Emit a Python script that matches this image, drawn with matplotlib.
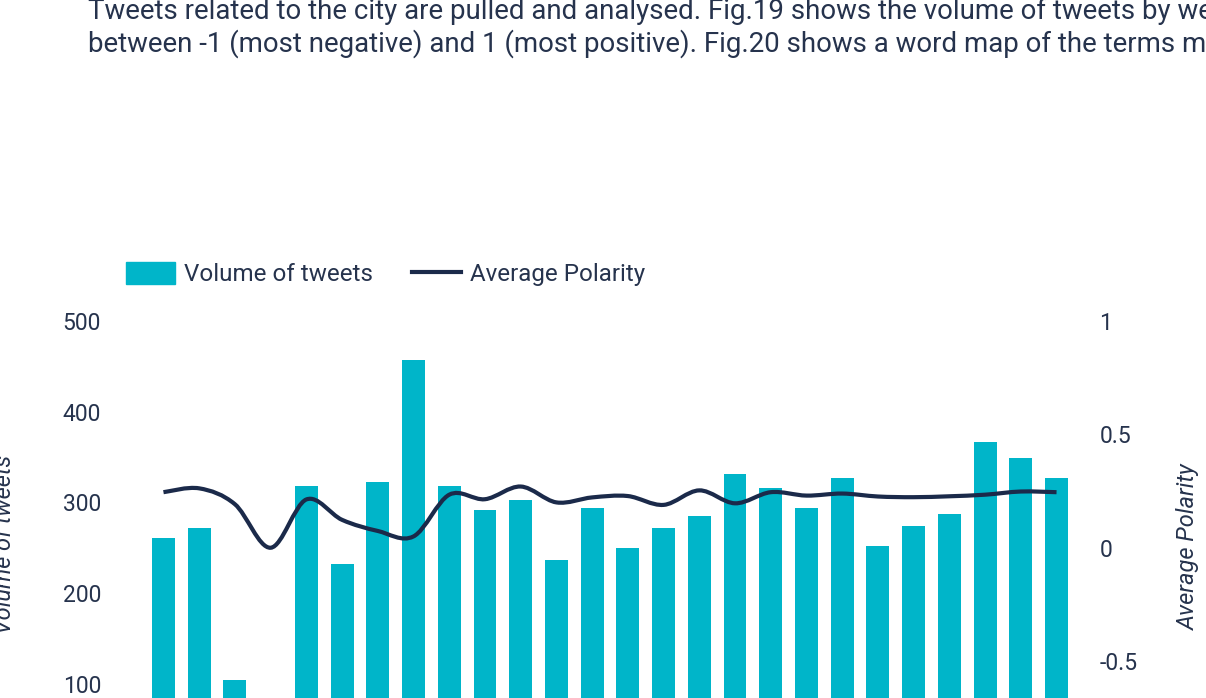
import matplotlib.pyplot as plt
from matplotlib.path import Path
from matplotlib.patches import PathPatch, Patch
from matplotlib.lines import Line2D

plt.rcParams['font.family'] = ['Roboto', 'DejaVu Sans']

# weekly tweet data (x tick labels are cropped out of the reference)
weeks = list(range(1, 27))
volume = [261, 272, 104, 0, 318, 232, 322, 457, 318, 292, 303, 236, 294,
          250, 272, 285, 331, 316, 294, 327, 252, 274, 287, 367, 349, 327]
polarity = [0.245, 0.262, 0.192, 0.0, 0.213, 0.123, 0.074, 0.05, 0.234, 0.214,
            0.27, 0.2, 0.222, 0.228, 0.189, 0.253, 0.196, 0.245, 0.23, 0.239,
            0.226, 0.223, 0.227, 0.234, 0.248, 0.245]
volume_ticks = [100, 200, 300, 400, 500]
polarity_ticks = [-0.5, 0, 0.5, 1]
polarity_ticklabels = ['-0.5', '0', '0.5', '1']

bar_color = '#00B5C9'
line_color = '#1B2A4A'
text_color = '#26334D'

intro = ["Tweets related to the city are pulled and analysed. Fig.19 shows the volume of tweets by week",
         "between -1 (most negative) and 1 (most positive). Fig.20 shows a word map of the terms most"]

W, H = 1206, 698
fig = plt.figure(figsize=(W / 100, H / 100), dpi=100)

# axes run past the bottom edge: the reference is a crop
left, right, top, bottom = 145.6, 1074.4, 321, 774.5
ax = fig.add_axes([left / W, 1 - bottom / H, (right - left) / W, (bottom - top) / H])
ax2 = ax.twinx()

x = list(range(len(weeks)))
ax.bar(x, volume, width=0.64, color=bar_color, zorder=2)
ax.set_xlim(-0.5, len(weeks) - 0.5)
ax.set_ylim(0, 500)
ax.set_yticks(volume_ticks)
ax.set_xticks([])

# smooth line through the weekly points (Bezier, Catmull-Rom style control points)
pts = list(zip(x, polarity))
n = len(pts)
verts = [pts[0]]
codes = [Path.MOVETO]
for i in range(n - 1):
    p0 = pts[i - 1] if i > 0 else pts[i]
    p1 = pts[i]
    p2 = pts[i + 1]
    p3 = pts[i + 2] if i + 2 < n else pts[i + 1]
    c1 = (p1[0] + (p2[0] - p0[0]) / 6, p1[1] + (p2[1] - p0[1]) / 6)
    c2 = (p2[0] - (p3[0] - p1[0]) / 6, p2[1] - (p3[1] - p1[1]) / 6)
    verts += [c1, c2, p2]
    codes += [Path.CURVE4] * 3
ax2.add_patch(PathPatch(Path(verts, codes), fill=False, edgecolor=line_color,
                        lw=3, capstyle='butt', zorder=3))
ax2.set_ylim(-1, 1)
ax2.set_yticks(polarity_ticks)
ax2.set_yticklabels(polarity_ticklabels)

for a in (ax, ax2):
    for s in a.spines.values():
        s.set_visible(False)
    a.tick_params(length=0, labelsize=16.5, colors=text_color)
ax.tick_params(axis='y', pad=32)
ax2.tick_params(axis='y', pad=18)

fig.text(5 / W, 1 - 544 / H, 'Volume of tweets', rotation=90, style='italic',
         fontsize=17, color=text_color, ha='center', va='center')
fig.text(1188 / W, 1 - 547 / H, 'Average Polarity', rotation=90, style='italic',
         fontsize=17, color=text_color, ha='center', va='center')

fig.text(88 / W, 1 - 19 / H, intro[0], fontsize=19.9, color=text_color, va='baseline')
fig.text(88 / W, 1 - 52 / H, intro[1], fontsize=19.9, color=text_color, va='baseline')

handles = [Patch(color=bar_color), Line2D([], [], color=line_color, lw=3)]
fig.legend(handles, ['Volume of tweets', 'Average Polarity'], ncol=2, frameon=False,
           loc='center left', bbox_to_anchor=(126 / W, 1 - 274 / H), borderpad=0,
           borderaxespad=0, handlelength=2.03, handleheight=1.03, handletextpad=0.37,
           columnspacing=1.6, fontsize=17.4, labelcolor=text_color)

fig.savefig('out.png', dpi=100)
